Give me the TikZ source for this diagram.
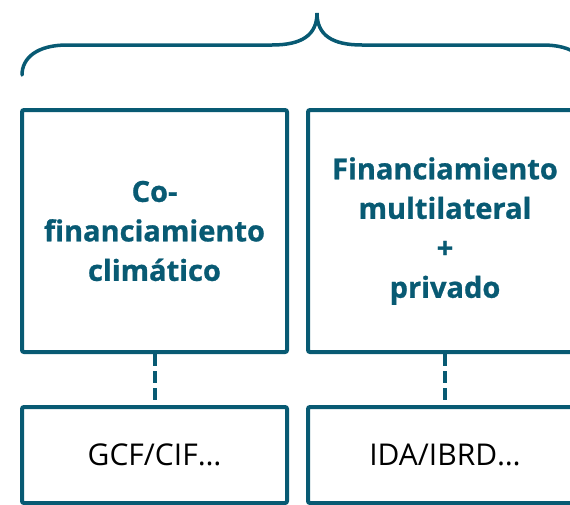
\documentclass[tikz,border=0pt]{standalone}
\usepackage{fontspec}
\setmainfont{Open Sans}
\newfontfamily\headfont[BoldFeatures={FakeBold=0.9}]{Open Sans}
\usepackage{tikz}
\usetikzlibrary{shapes}

\begin{document}
\begin{tikzpicture}[x=1pt,y=-1pt,
  fundbox/.style={rectangle,
       draw=tealdark,
       line width=4pt,
       rounded corners=2pt,
       align=center,
       text=tealdark,
       font=\headfont\bfseries\fontsize{29}{39.5}\selectfont},
  srcbox/.style={rectangle,
       draw=tealdark,
       line width=4pt,
       rounded corners=2pt,
       minimum height=96pt,
       font=\fontsize{30}{38}\selectfont},
  link/.style={draw=tealdark,
       line width=4pt,
       dash pattern=on 12pt off 5pt}]
\definecolor{tealdark}{RGB}{8,90,115};
\useasboundingbox (0,0) rectangle (570,504);
\node [fundbox,
       minimum width=265pt,
       minimum height=242pt] (clima) at (154.5,231) {Co-\\financiamiento\\climático};
\node [fundbox,
       minimum width=274pt,
       minimum height=242pt] (multi) at (445,231) {Financiamiento\\multilateral\\+\\privado};
\node [srcbox,
       minimum width=265pt] (gcf) at (154.5,455) {GCF/CIF\ldots};
\node [srcbox,
       minimum width=274pt] (ida) at (445,455) {IDA/IBRD\ldots};
\draw [link] (clima.south) -- (gcf.north);
\draw [link] (multi.south) -- (ida.north);
\draw [tealdark, line width=3.5pt, line cap=round]
  (22,75) .. controls (22,58) and (37,45) .. (67,45) -- (272,45)
  .. controls (302,45) and (317,35) .. (317,13)
  .. controls (317,35) and (332,45) .. (362,45) -- (543,45)
  .. controls (573,45) and (588,58) .. (588,75);
\end{tikzpicture}
\end{document}
